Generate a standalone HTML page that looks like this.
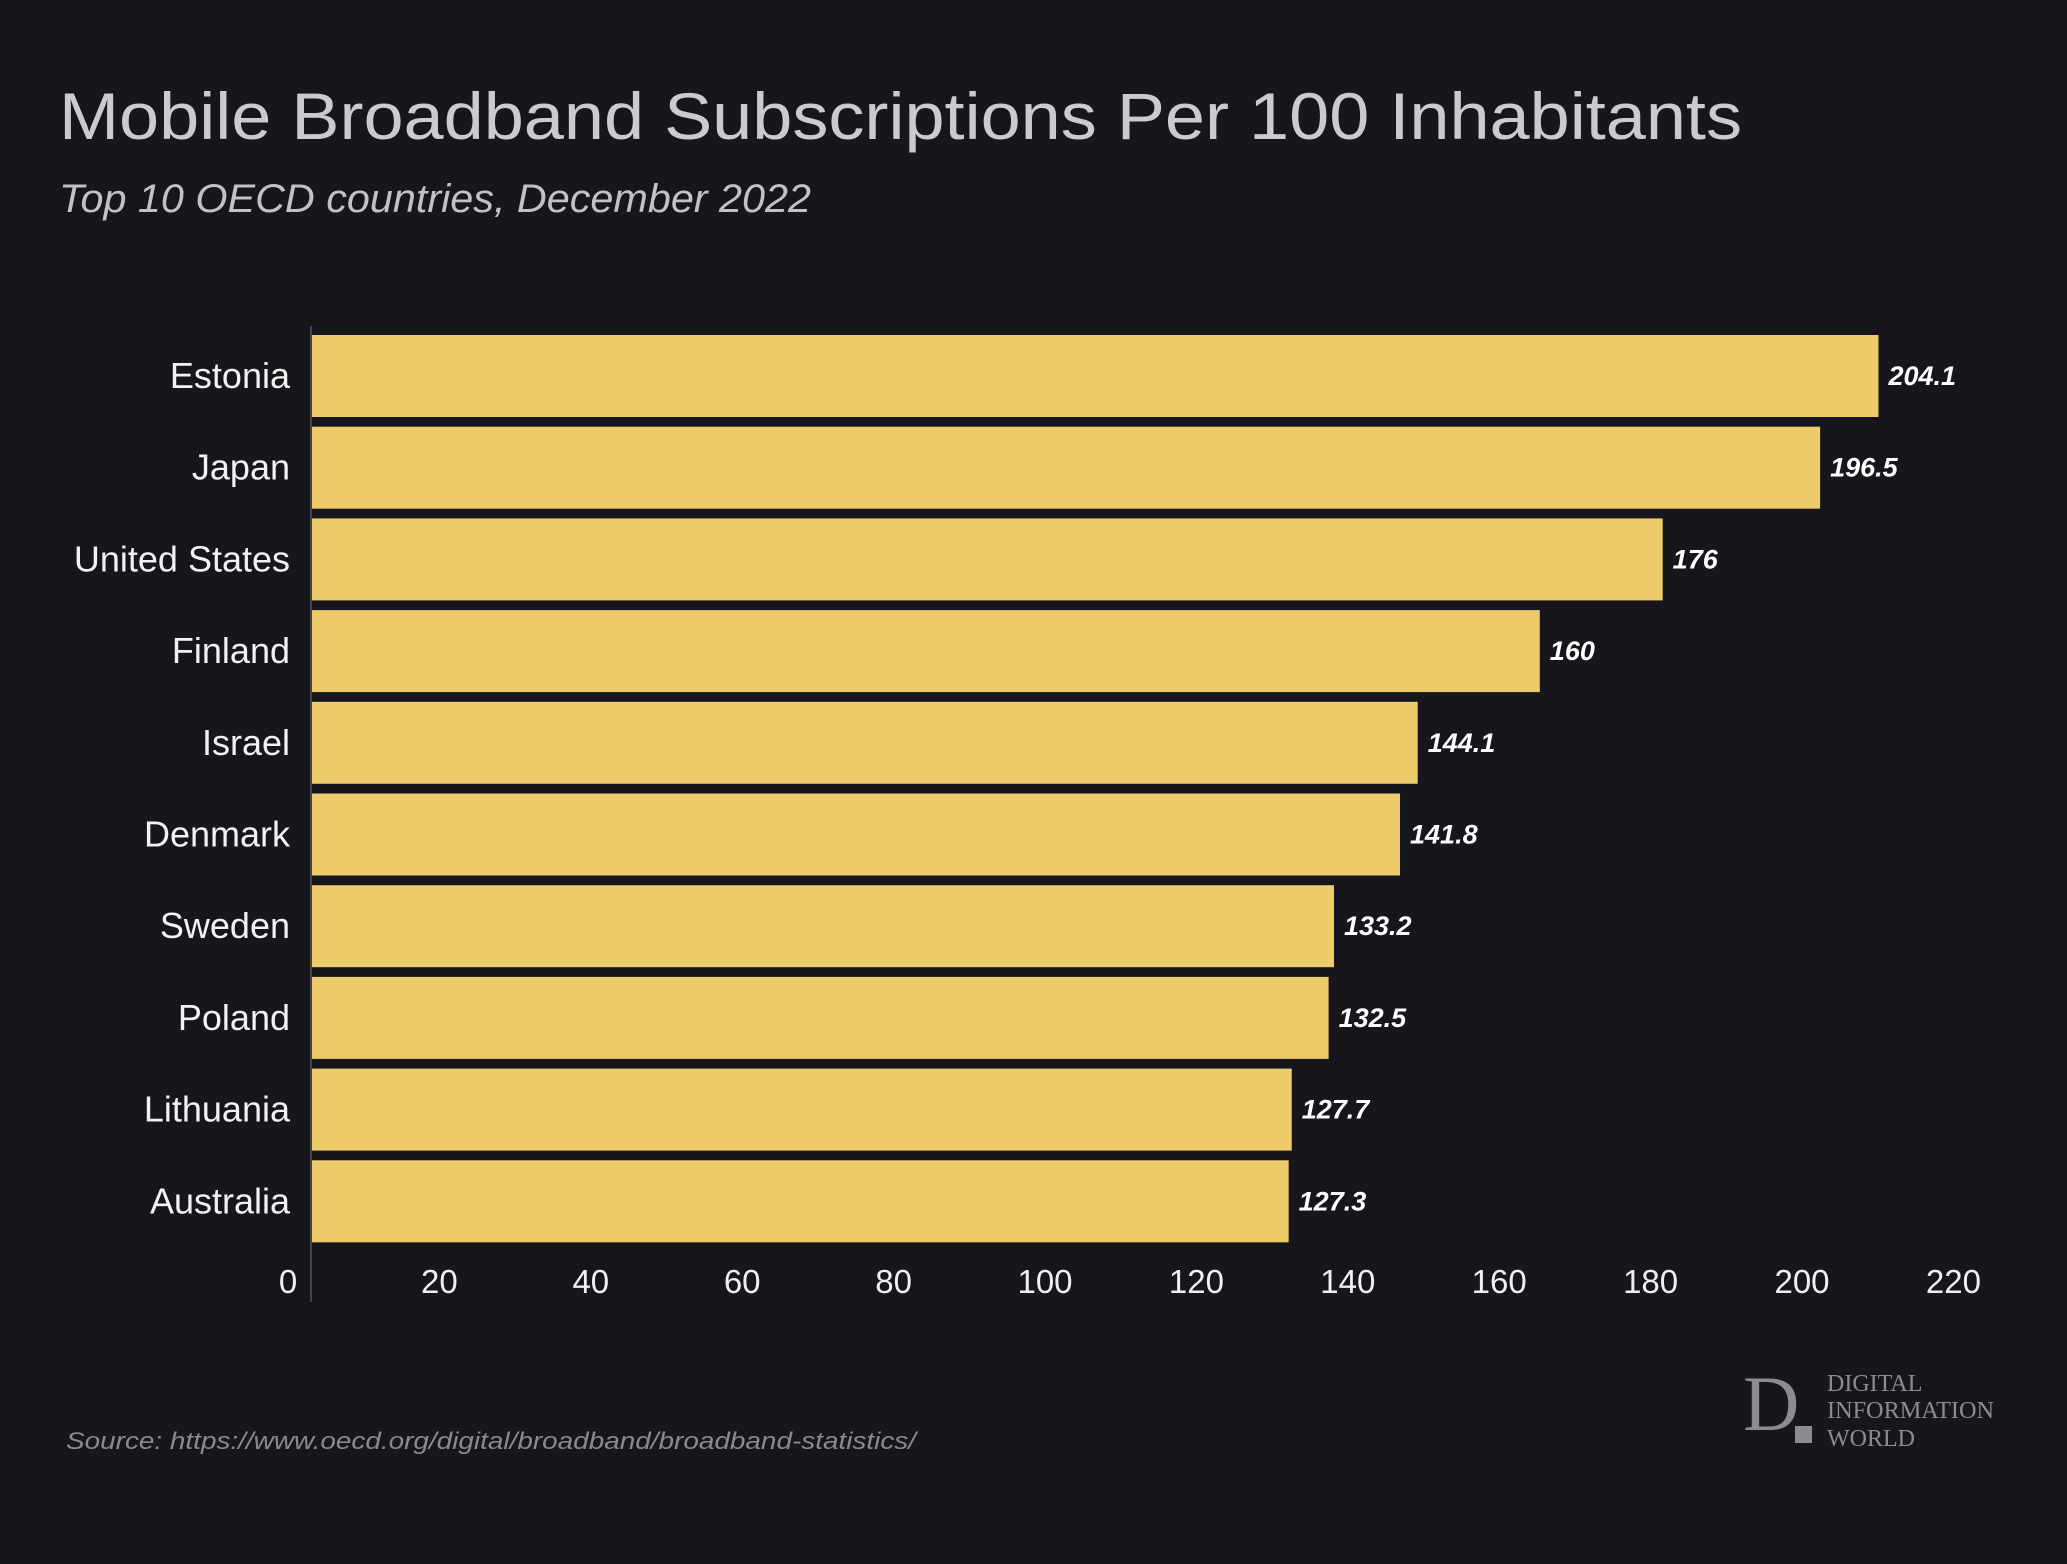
<!DOCTYPE html>
<html><head><meta charset="utf-8"><style>
html,body{margin:0;padding:0;background:#17161c;}
svg{display:block;}
</style></head><body>
<svg id="chart" width="2067" height="1564" viewBox="0 0 2067 1564" xmlns="http://www.w3.org/2000/svg">
<rect width="2067" height="1564" fill="#17161c"/>
<text x="59" y="139" font-family="Liberation Sans, sans-serif" font-size="66" fill="#cbcbce" textLength="1683" lengthAdjust="spacingAndGlyphs">Mobile Broadband Subscriptions Per 100 Inhabitants</text>
<text x="59" y="212" font-family="Liberation Sans, sans-serif" font-style="italic" font-size="40" fill="#c2c2c6" textLength="752" lengthAdjust="spacingAndGlyphs">Top 10 OECD countries, December 2022</text>
<g id="bars"></g>
<g id="ylabels"></g>
<g id="values"></g>
<g id="xticks"></g>
<line x1="311" y1="326" x2="311" y2="1302" stroke="#44434a" stroke-width="2"/>
<text x="66" y="1449" font-family="Liberation Sans, sans-serif" font-style="italic" font-size="24" fill="#8a8a8e" textLength="850" lengthAdjust="spacingAndGlyphs">Source: https://www.oecd.org/digital/broadband/broadband-statistics/</text>
<g>
<text x="1743" y="1430" font-family="Liberation Serif, serif" font-size="78" fill="#8c8c90">D</text>
<rect x="1795" y="1426" width="17" height="17" fill="#8c8c90"/>
<text x="1827" y="1391" font-family="Liberation Serif, serif" font-size="24" fill="#8c8c90">DIGITAL</text>
<text x="1827" y="1418" font-family="Liberation Serif, serif" font-size="24" fill="#8c8c90" textLength="167" lengthAdjust="spacingAndGlyphs">INFORMATION</text>
<text x="1827" y="1446" font-family="Liberation Serif, serif" font-size="24" fill="#8c8c90">WORLD</text>
</g>
</svg>
<script>
const categories = ["Estonia","Japan","United States","Finland","Israel","Denmark","Sweden","Poland","Lithuania","Australia"];
const values = [204.1,196.5,176,160,144.1,141.8,133.2,132.5,127.7,127.3];
const valueLabels = ["204.1","196.5","176","160","144.1","141.8","133.2","132.5","127.7","127.3"];
const tickValues = [0,20,40,60,80,100,120,140,160,180,200,220];
const NS = "http://www.w3.org/2000/svg";
const x0 = 311, pxPerUnit = 7.68;
function xScale(v){ return x0 + v * pxPerUnit; }
function tickX(v){ return 288 + v * 7.57; }
const bandTop = 335, bandStep = 91.7, barH = 82;
function yScale(i){ return bandTop + i * bandStep; }
function mk(tag, attrs, parent){ const e=document.createElementNS(NS,tag); for(const k in attrs) e.setAttribute(k,attrs[k]); parent.appendChild(e); return e; }
const gb=document.getElementById('bars'), gy=document.getElementById('ylabels'), gv=document.getElementById('values'), gt=document.getElementById('xticks');
categories.forEach((c,i)=>{
  const y=yScale(i);
  const w=xScale(values[i])-x0;
  const r=mk('rect',{x:x0,y:y,width:w,height:barH,fill:'#eecb6b'},gb);
  
  
  const t=mk('text',{x:290,y:y+barH/2+12,'text-anchor':'end','font-family':'Liberation Sans, sans-serif','font-size':'36',fill:'#f2f2f2'},gy);
  t.textContent=c;
  
  
  const v=mk('text',{x:xScale(values[i])+10,y:y+barH/2+9,'font-family':'Liberation Sans, sans-serif','font-size':'27','font-weight':'bold','font-style':'italic',fill:'#ffffff'},gv);
  v.textContent=valueLabels[i];
  
  
});
tickValues.forEach(tv=>{
  const t=mk('text',{x:tickX(tv),y:1293,'text-anchor':'middle','font-family':'Liberation Sans, sans-serif','font-size':'33',fill:'#f0f0f0'},gt);
  t.textContent=String(tv);
  
  
});
</script>
</body></html>
